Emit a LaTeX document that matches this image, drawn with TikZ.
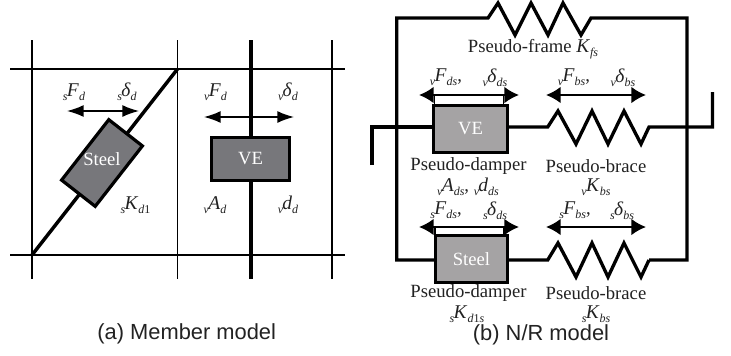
\documentclass[tikz,border=0pt]{standalone}
\usepackage{fontspec}
\setmainfont{Liberation Serif}
\newfontfamily\capfont{Liberation Sans}
\newcommand{\pl}[3]{\raisebox{-.22em}{\fontsize{9}{9}\selectfont\itshape #1}\kern-.5pt{\fontsize{14.6}{15}\selectfont\textit{#2}}\raisebox{-.22em}{\fontsize{9}{9}\selectfont\itshape #3}}
\definecolor{darkbox}{HTML}{77777B}
\definecolor{lightbox}{HTML}{A5A3A4}
\definecolor{txtc}{HTML}{222222}
\usetikzlibrary{arrows.meta}
\tikzset{
  x=0.75pt,y=-0.75pt,
  thin line/.style={draw=black,line width=1.45pt},
  thick line/.style={draw=black,line width=2.6pt},
  wire/.style={draw=black,line width=2.5pt,line join=miter},
  force/.style={draw=black,line width=1.1pt,{Latex[length=12.5pt,width=9pt]}-{Latex[length=12.5pt,width=9pt]}},
  forcer/.style={draw=black,line width=1.5pt,{Latex[length=11pt,width=12.5pt]}-{Latex[length=11pt,width=12.5pt]}},
  lbl/.style={font=\fontsize{14}{14}\selectfont,text=txtc,inner sep=0pt,anchor=center},
  captext/.style={font=\capfont\fontsize{16.4}{17}\selectfont,text=txtc,inner sep=0pt,anchor=center},
  dbox/.style={draw=black,line width=2.4pt,fill=darkbox,text=white,inner sep=0pt,font=\fontsize{14}{14}\selectfont},
  lbox/.style={draw=black,line width=2.2pt,fill=lightbox,text=white,inner sep=0pt,font=\fontsize{14}{14}\selectfont},
  boxtext/.style={text=white,inner sep=0pt,font=\fontsize{14}{14}\selectfont},
}
\begin{document}
\begin{tikzpicture}
\useasboundingbox (0,0) rectangle (731,355);
% grid
\coordinate (gt) at (177.5,69); \coordinate (gb) at (32,255);
\draw[thin line] (32,40) -- (32,279);
\draw[thin line] (177.5,40) -- (177.5,279);
\draw[thin line] (332,40) -- (332,279);
\draw[thin line] (10,69) -- (345,69);
\draw[thin line] (10,255) -- (345,255);
\draw[thick line] (gb) -- (gt);
\draw[thick line] (251,40) -- (251,279);
% member boxes
\node[dbox,minimum width=57.5pt,minimum height=32pt,rotate=52] (steelm) at (102,163) {};
\node[boxtext] (steeltxt) at (102,159.5) {Steel};
\node[dbox,minimum width=58pt,minimum height=32pt] (vem) at (250.5,159) {VE};
% member arrows
\coordinate (a1) at (67,111); \coordinate (a2) at (139,111);
\coordinate (a3) at (204,117); \coordinate (a4) at (294,117);
\draw[force] (a1) -- (a2);
\draw[force] (a3) -- (a4);
% member labels
\node[lbl] (l1) at (74,92) {\pl{s}{F}{d}};
\node[lbl] (l2) at (127,92) {\pl{s}{δ}{d}};
\node[lbl] (l3) at (215.5,92) {\pl{v}{F}{d}};
\node[lbl] (l4) at (288,92) {\pl{v}{δ}{d}};
\node[lbl] (l5) at (135.5,205) {\pl{s}{K}{d\textup{1}}};
\node[lbl] (l6) at (215,205) {\pl{v}{A}{d}};
\node[lbl] (l7) at (288,205) {\pl{v}{d}{d}};
\node[captext] (c1) at (186.7,334) {(a) Member model};
% N/R model
\node[lbox,minimum width=55pt,minimum height=35pt] (ver) at (470.5,129) {VE};
\node[lbox,minimum width=54pt,minimum height=35pt] (str) at (471.5,259) {Steel};
\coordinate (sa) at (488,18); \coordinate (sb) at (591,18);
\coordinate (ta) at (547.7,127); \coordinate (tb) at (649,127);
\coordinate (ua) at (547.7,260); \coordinate (ub) at (649,260);
\draw[wire] (str.west |- ua) -- (396.7,260) -- (396.7,18) -- (sa) -- (498,3) -- (515,35) -- (531,3) -- (548,35) -- (563,3) -- (581,35) -- (sb) -- (687,18) -- (687,260) -- (ub);
\draw[wire] (ub) -- (641,277) -- (624,243) -- (608,277) -- (592,243) -- (576,277) -- (558,243) -- (ua) -- (str.east |- ua);
\draw[wire] (372,165) -- (372,127) -- (ver.west |- ta);
\draw[wire] (ver.east |- ta) -- (ta) -- (558,111) -- (576,144) -- (592,111) -- (608,144) -- (624,111) -- (641,144) -- (tb) -- (712.5,127) -- (712.5,92);
% N/R arrows
\coordinate (b1) at (419,95); \coordinate (b2) at (519,95);
\coordinate (b3) at (546,95); \coordinate (b4) at (646,95);
\coordinate (b5) at (419,227); \coordinate (b6) at (519,227);
\coordinate (b7) at (546,227); \coordinate (b8) at (646,227);
\draw[forcer] (b1) -- (b2);
\draw[forcer] (b3) -- (b4);
\draw[forcer] (b5) -- (b6);
\draw[forcer] (b7) -- (b8);
\draw[draw=black,line width=1.3pt] (434.5,95) -- (434.5,106) (503.5,95) -- (503.5,106) (435,227) -- (435,236) (504,227) -- (504,236);
% N/R labels
\node[lbl] (n1) at (533,49) {Pseudo-frame {\fontsize{14.6}{15}\selectfont\textit{K}}\raisebox{-.22em}{\fontsize{9}{9}\selectfont\itshape fs}};
\node[lbl] (n2) at (446,77.5) {\pl{v}{F}{ds},};
\node[lbl] (n3) at (495,77.5) {\pl{v}{δ}{ds}};
\node[lbl] (n4) at (574,77.5) {\pl{v}{F}{bs},};
\node[lbl] (n5) at (623,77.5) {\pl{v}{δ}{bs}};
\node[lbl] (n6) at (468.5,166) {Pseudo-damper};
\node[lbl] (n7) at (596,166) {Pseudo-brace};
\node[lbl] (n8) at (468,187) {\pl{v}{A}{ds}, \pl{v}{d}{ds}};
\node[lbl] (n9) at (596,187) {\pl{v}{K}{bs}};
\node[lbl] (n10) at (446,210.5) {\pl{s}{F}{ds},};
\node[lbl] (n11) at (495,210.5) {\pl{s}{δ}{ds}};
\node[lbl] (n12) at (575,210.5) {\pl{s}{F}{bs},};
\node[lbl] (n13) at (622,210.5) {\pl{s}{δ}{bs}};
\node[lbl] (n14) at (468.5,293) {Pseudo-damper};
\node[lbl] (n15) at (596,293) {Pseudo-brace};
\node[lbl] (n16) at (467,314) {\pl{s}{K}{d\textup{1}s}};
\node[lbl] (n17) at (596,314) {\pl{s}{K}{bs}};
\node[captext] (c2) at (541,335) {(b) N/R model};
\end{tikzpicture}
\end{document}
